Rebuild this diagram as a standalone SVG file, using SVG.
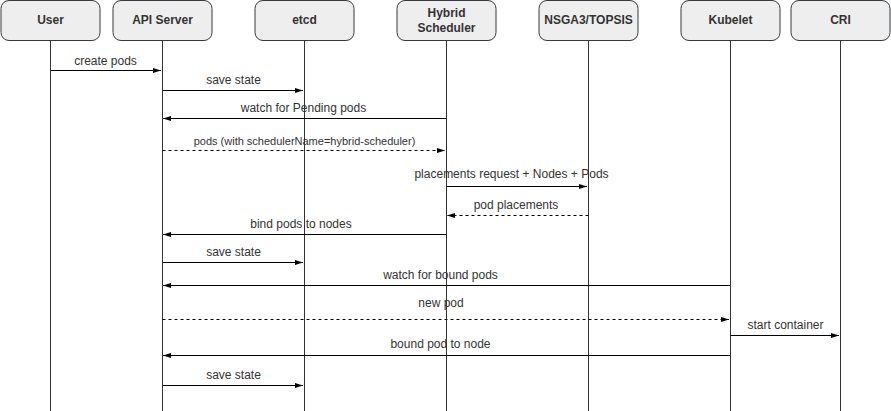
<svg xmlns="http://www.w3.org/2000/svg" width="891" height="411" viewBox="0 0 891 411">
<style>
.box{fill:#eeeeee;stroke:#36393d;stroke-width:1}
.life{stroke:#333333;stroke-width:1;fill:none}
.hd{font-family:"Liberation Sans",Arial,sans-serif;font-size:12px;font-weight:bold;fill:#333333;text-anchor:middle}
.msg{stroke:#000;stroke-width:1;fill:none;marker-end:url(#ah)}
.dash{stroke-dasharray:3 3}
.lb{font-family:"Liberation Sans",Arial,sans-serif;font-size:12px;fill:#333333;text-anchor:middle}
.sm{font-size:11px}
</style>
<defs>
<marker id="ah" markerUnits="userSpaceOnUse" markerWidth="9" markerHeight="6" refX="8" refY="3" orient="auto">
<path d="M0,0.5 L8,3 L0,5.5 z" fill="#000"/>
</marker>
</defs>
<rect width="891" height="411" fill="#ffffff"/>
<g id="user"><rect class="box" x="1" y="0.5" width="99" height="40" rx="8"/><text class="hd" x="50.5" y="24">User</text><line class="life" x1="50.5" y1="40.5" x2="50.5" y2="411"/></g>
<g id="apiserver"><rect class="box" x="113" y="0.5" width="99" height="40" rx="8"/><text class="hd" x="162.5" y="24">API Server</text><line class="life" x1="162.5" y1="40.5" x2="162.5" y2="411"/></g>
<g id="etcd"><rect class="box" x="255" y="0.5" width="99" height="40" rx="8"/><text class="hd" x="304.5" y="24">etcd</text><line class="life" x1="304.5" y1="40.5" x2="304.5" y2="411"/></g>
<g id="scheduler"><rect class="box" x="397" y="0.5" width="99" height="40" rx="8"/><text class="hd" x="446.5" y="17">Hybrid</text><text class="hd" x="446.5" y="31.5">Scheduler</text><line class="life" x1="446.5" y1="40.5" x2="446.5" y2="411"/></g>
<g id="nsga"><rect class="box" x="539" y="0.5" width="99" height="40" rx="8"/><text class="hd" x="588.5" y="24">NSGA3/TOPSIS</text><line class="life" x1="588.5" y1="40.5" x2="588.5" y2="411"/></g>
<g id="kubelet"><rect class="box" x="681" y="0.5" width="99" height="40" rx="8"/><text class="hd" x="730.5" y="24">Kubelet</text><line class="life" x1="730.5" y1="40.5" x2="730.5" y2="411"/></g>
<g id="cri"><rect class="box" x="791" y="0.5" width="99" height="40" rx="8"/><text class="hd" x="840.5" y="24">CRI</text><line class="life" x1="840.5" y1="40.5" x2="840.5" y2="411"/></g>
<g id="connectors">
<line class="msg" x1="50.5" y1="70.5" x2="161" y2="70.5"/><text class="lb" x="105.5" y="64.5">create pods</text>
<line class="msg" x1="162.5" y1="90.5" x2="303" y2="90.5"/><text class="lb" x="233.5" y="84">save state</text>
<line class="msg" x1="446.5" y1="118.5" x2="163" y2="118.5"/><text class="lb" x="303.5" y="112">watch for Pending pods</text>
<line class="msg dash" x1="162.5" y1="150.5" x2="445" y2="150.5"/><text class="lb sm" x="304.5" y="145">pods (with schedulerName=hybrid-scheduler)</text>
<line class="msg" x1="446.5" y1="186.5" x2="587" y2="186.5"/><text class="lb" x="511.5" y="177.5">placements request + Nodes + Pods</text>
<line class="msg dash" x1="588.5" y1="215.5" x2="447" y2="215.5"/><text class="lb" x="516" y="209">pod placements</text>
<line class="msg" x1="446.5" y1="234.5" x2="163" y2="234.5"/><text class="lb" x="301" y="227.5">bind pods to nodes</text>
<line class="msg" x1="162.5" y1="262.5" x2="303" y2="262.5"/><text class="lb" x="233.5" y="256">save state</text>
<line class="msg" x1="730.5" y1="285.5" x2="163" y2="285.5"/><text class="lb" x="440.5" y="278.5">watch for bound pods</text>
<line class="msg dash" x1="162.5" y1="319.5" x2="729" y2="319.5"/><text class="lb" x="441" y="307">new pod</text>
<line class="msg" x1="730.5" y1="335.5" x2="839" y2="335.5"/><text class="lb" x="785.5" y="329">start container</text>
<line class="msg" x1="730.5" y1="355.5" x2="163" y2="355.5"/><text class="lb" x="440.5" y="348">bound pod to node</text>
<line class="msg" x1="162.5" y1="385.5" x2="303" y2="385.5"/><text class="lb" x="233.5" y="378.5">save state</text>
</g>
</svg>
